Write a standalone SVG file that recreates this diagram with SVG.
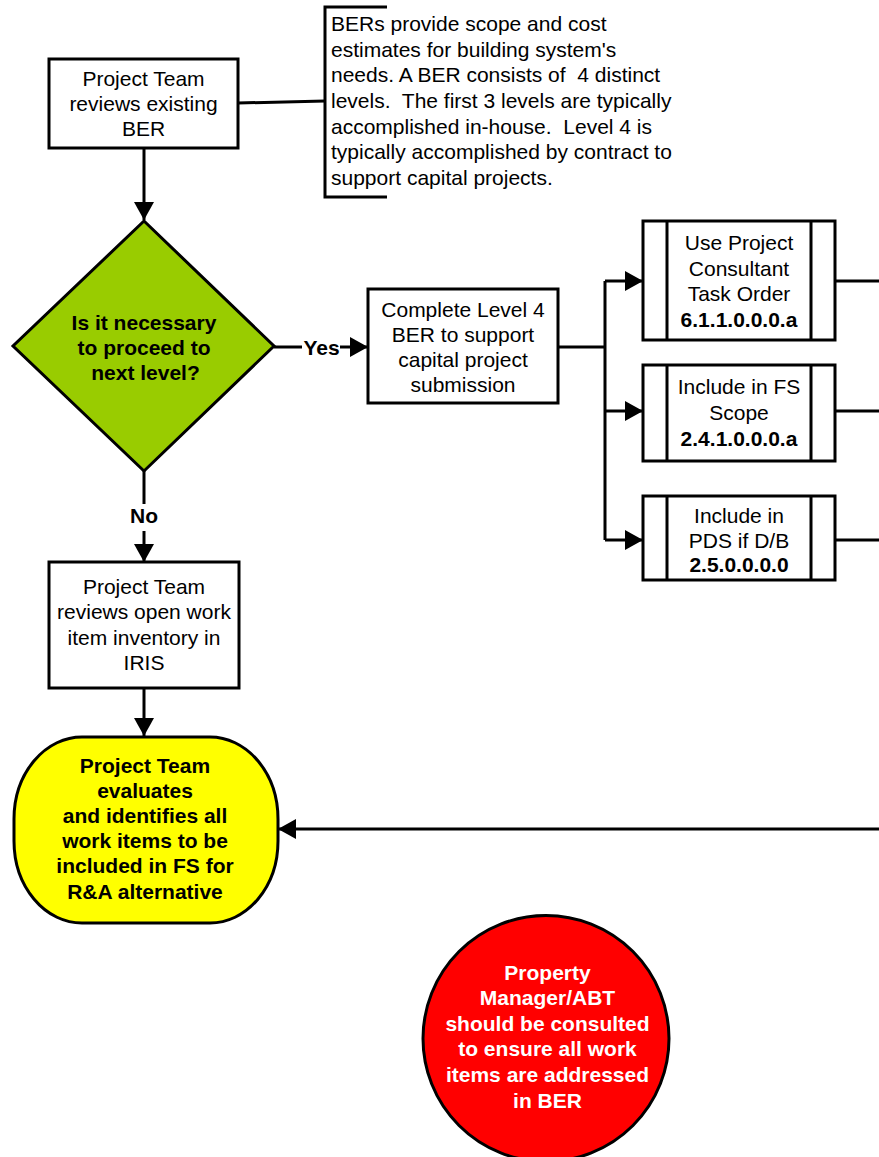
<svg xmlns="http://www.w3.org/2000/svg" width="879" height="1157" viewBox="0 0 879 1157">
<style>
  .box { fill: #ffffff; stroke: #000000; stroke-width: 3; }
  .ln { fill: none; stroke: #000000; stroke-width: 3; }
  .t { font-family: "Liberation Sans", Arial, sans-serif; font-size: 21px; fill: #000000; }
  .c { text-anchor: middle; }
  .b { font-weight: bold; }
  .w { fill: #ffffff; }
</style>
<defs>
  <marker id="arr" markerUnits="userSpaceOnUse" markerWidth="19" markerHeight="20" refX="18" refY="10" orient="auto">
    <path d="M0,0 L18,10 L0,20 z" fill="#000000"/>
  </marker>
</defs>
<rect width="879" height="1157" fill="#ffffff"/>

<g id="connectors">
  <path class="ln" d="M144,148 V220" marker-end="url(#arr)"/>
  <path class="ln" d="M238,103 L325,101"/>
  <path class="ln" d="M274,347 H302"/>
  <path class="ln" d="M340,347 H368" marker-end="url(#arr)"/>
  <path class="ln" d="M558,347 H605"/>
  <path class="ln" d="M605,281 V540"/>
  <path class="ln" d="M605,281 H643" marker-end="url(#arr)"/>
  <path class="ln" d="M605,411 H643" marker-end="url(#arr)"/>
  <path class="ln" d="M605,540 H643" marker-end="url(#arr)"/>
  <path class="ln" d="M835,281 H879"/>
  <path class="ln" d="M835,411 H879"/>
  <path class="ln" d="M835,540 H879"/>
  <path class="ln" d="M144,471 V504"/>
  <path class="ln" d="M144,531 V562" marker-end="url(#arr)"/>
  <path class="ln" d="M144,688 V736" marker-end="url(#arr)"/>
  <path class="ln" d="M879,829 H278" marker-end="url(#arr)"/>
  <text class="t b c" x="321.5" y="354.5">Yes</text>
  <text class="t b c" x="144" y="523">No</text>
</g>

<g id="node-review-ber">
  <rect class="box" x="49" y="59" width="189" height="89"/>
  <text class="t c" x="143.5" y="85.5">Project Team</text>
  <text class="t c" x="143.5" y="110.5">reviews existing</text>
  <text class="t c" x="143.5" y="135.5">BER</text>
</g>

<g id="node-annotation">
  <path class="ln" d="M387,7 H325 V197 H387"/>
  <text class="t" x="331" y="31">BERs provide scope and cost</text>
  <text class="t" x="331" y="56.7">estimates for building system's</text>
  <text class="t" x="331" y="82.3" xml:space="preserve">needs. A BER consists of  4 distinct</text>
  <text class="t" x="331" y="108" xml:space="preserve">levels.  The first 3 levels are typically</text>
  <text class="t" x="331" y="133.7" xml:space="preserve">accomplished in-house.  Level 4 is</text>
  <text class="t" x="331" y="159.3">typically accomplished by contract to</text>
  <text class="t" x="331" y="185">support capital projects.</text>
</g>

<g id="node-decision">
  <polygon points="144,221 274,346 144,471 13,346" fill="#99cc00" stroke="#000000" stroke-width="3" stroke-linejoin="miter"/>
  <text class="t b c" x="144" y="329.5">Is it necessary</text>
  <text class="t b c" x="144" y="354.5">to proceed to</text>
  <text class="t b c" x="145.5" y="379.5">next level?</text>
</g>

<g id="node-level4">
  <rect class="box" x="368" y="289" width="190" height="114"/>
  <text class="t c" x="463" y="316.5">Complete Level 4</text>
  <text class="t c" x="463" y="341.5">BER to support</text>
  <text class="t c" x="463" y="366.5">capital project</text>
  <text class="t c" x="463" y="391.5">submission</text>
</g>

<g id="node-consultant">
  <rect class="box" x="643" y="221" width="192" height="119"/>
  <path class="ln" d="M667,221 V340 M811,221 V340"/>
  <text class="t c" x="739" y="250">Use Project</text>
  <text class="t c" x="739" y="275.5">Consultant</text>
  <text class="t c" x="739" y="301">Task Order</text>
  <text class="t b c" x="739" y="327">6.1.1.0.0.0.a</text>
</g>

<g id="node-fs-scope">
  <rect class="box" x="643" y="365" width="192" height="96"/>
  <path class="ln" d="M667,365 V461 M811,365 V461"/>
  <text class="t c" x="739" y="393.5">Include in FS</text>
  <text class="t c" x="739" y="419.5">Scope</text>
  <text class="t b c" x="739" y="445.5">2.4.1.0.0.0.a</text>
</g>

<g id="node-pds">
  <rect class="box" x="643" y="496" width="192" height="84"/>
  <path class="ln" d="M667,496 V580 M811,496 V580"/>
  <text class="t c" x="739" y="522.5">Include in</text>
  <text class="t c" x="739" y="547.5">PDS if D/B</text>
  <text class="t b c" x="739" y="571.5">2.5.0.0.0.0</text>
</g>

<g id="node-iris">
  <rect class="box" x="49" y="562" width="190" height="126"/>
  <text class="t c" x="144" y="593.5">Project Team</text>
  <text class="t c" x="144" y="619">reviews open work</text>
  <text class="t c" x="144" y="644.5">item inventory in</text>
  <text class="t c" x="144" y="670">IRIS</text>
</g>

<g id="node-evaluate">
  <rect x="14" y="737" width="264" height="186" rx="68" ry="82" fill="#ffff00" stroke="#000000" stroke-width="3"/>
  <text class="t b c" x="145" y="772.5">Project Team</text>
  <text class="t b c" x="145" y="797.5">evaluates</text>
  <text class="t b c" x="145" y="823">and identifies all</text>
  <text class="t b c" x="145" y="848">work items to be</text>
  <text class="t b c" x="145" y="873">included in FS for</text>
  <text class="t b c" x="145" y="898.5">R&amp;A alternative</text>
</g>

<g id="node-property-manager">
  <circle cx="546" cy="1038.5" r="123" fill="#ff0000" stroke="#000000" stroke-width="3"/>
  <text class="t b c w" x="547.5" y="979.5">Property</text>
  <text class="t b c w" x="547.5" y="1004.5">Manager/ABT</text>
  <text class="t b c w" x="547.5" y="1030.5">should be consulted</text>
  <text class="t b c w" x="547.5" y="1055.5">to ensure all work</text>
  <text class="t b c w" x="547.5" y="1081.5">items are addressed</text>
  <text class="t b c w" x="547.5" y="1107.5">in BER</text>
</g>
</svg>
